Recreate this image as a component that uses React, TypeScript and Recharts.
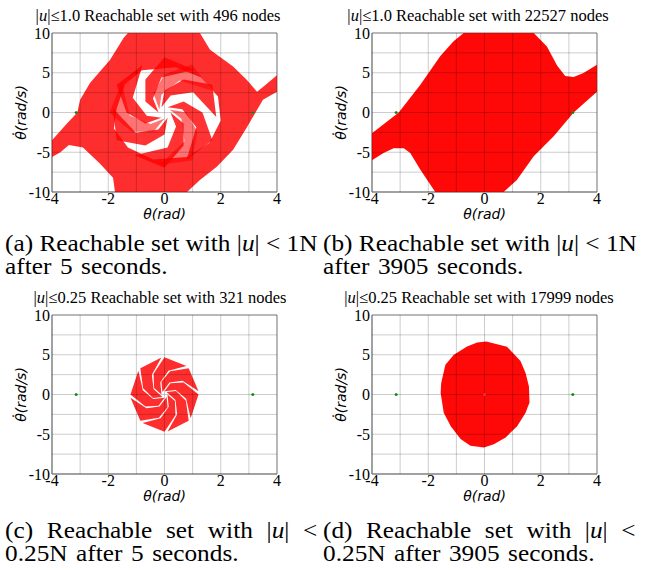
import React from 'react';
import { ScatterChart, Scatter, XAxis, YAxis, CartesianGrid, ReferenceArea, Label } from 'recharts';

type Pt = { x: number; y: number };
type Tup = [number, number];

// ---------- axes ----------
const xTicks = [-4, -3, -2, -1, 0, 1, 2, 3, 4];
const yTicks = [-10, -7.5, -5, -2.5, 0, 2.5, 5, 7.5, 10];
const xTickLabels = [-4, -2, 0, 2, 4];
const yTickLabels = [-10, -5, 0, 5, 10];

// ---------- equilibria (±π, 0) ----------
const equilibria: Tup[] = [[-3.14, 0], [3.14, 0]];
const originD: Tup[] = [[0, 0]];

// ---------- panel (a): |u|<=1.0, 496 nodes ----------
const ringOuterA: Tup[] = [
  [-1.3, 10], [1.26, 10], [1.62, 7.9], [2.44, 5.8], [2.93, 4.1], [3.29, 2.6], [3.5, 3.2], [4.0, 4.7],
  [4.0, 2.6], [3.5, 1.6], [3.22, -0.1], [2.93, -1.85], [2.44, -4.7], [1.87, -6.8], [1.26, -8.5], [0.8, -10],
  [-1.76, -10], [-1.83, -8.2], [-2.3, -6.4], [-2.9, -4.4], [-3.4, -4.1], [-3.7, -5.0], [-4.0, -5.6],
  [-4.0, -3.5], [-3.5, -1.5], [-3.1, 0.0], [-3.0, 1.6], [-2.65, 3.7], [-1.94, 6.6], [-1.45, 9.4],
];
const ringInnerA: Tup[] = [
  [-1.7, 0.5], [-1.4, 3.6], [-0.8, 5.3], [0.4, 5.7], [1.3, 4.4], [1.9, 2.0],
  [2.0, -1.0], [1.6, -3.8], [0.8, -5.6], [-0.4, -5.9], [-1.3, -4.4], [-1.8, -2.0],
];
const armA0: Tup[] = [[0.21, 0], [0.68, -1.39], [0.68, -4.16], [0, -6.96], [-1.06, -5.39], [0.11, -4.41], [0.41, -1.75]];
const armA1: Tup[] = [[0.11, 0.66], [0.68, 1.39], [1.35, 0], [1.7, -3.48], [0.78, -5.97], [1.13, -1.87], [0.63, 0.4]];
const armA2: Tup[] = [[-0.11, 0.66], [0, 2.78], [0.68, 4.16], [1.7, 3.48], [1.84, -0.57], [1.02, 2.54], [0.22, 2.14]];
const armA3: Tup[] = [[-0.21, 0], [-0.68, 1.39], [-0.68, 4.16], [0, 6.96], [1.06, 5.39], [-0.11, 4.41], [-0.41, 1.75]];
const armA4: Tup[] = [[-0.11, -0.66], [-0.68, -1.39], [-1.35, 0], [-1.7, 3.48], [-0.78, 5.97], [-1.13, 1.87], [-0.63, -0.4]];
const armA5: Tup[] = [[0.11, -0.66], [0, -2.78], [-0.68, -4.16], [-1.7, -3.48], [-1.84, 0.57], [-1.02, -2.54], [-0.22, -2.14]];
const shardA0: Tup[] = [[0.185, 0.38], [0.78, 0], [1.17, -2.41], [0.98, -6.03], [-0.16, -6.56], [0.71, -3.63], [0.6, -0.78]];
const shardA1: Tup[] = [[-0.185, 0.38], [-0.39, 2.41], [0, 4.81], [0.98, 6.03], [1.68, 2.78], [0.53, 4.02], [-0.11, 2.24]];
const shardA2: Tup[] = [[0, -0.76], [-0.39, -2.41], [-1.17, -2.41], [-1.96, 0], [-1.52, 3.77], [-1.24, -0.39], [-0.49, -1.46]];

// ---------- panel (b): |u|<=1.0, 22527 nodes ----------
const bandB: Tup[] = [
  [-4, -2.6], [-3.05, 0], [-2.28, 3.5], [-1.57, 7.1], [-1.1, 8.95], [-0.74, 10], [1.75, 10], [2.22, 8.3],
  [2.58, 5.9], [2.87, 4.6], [3.17, 4.45], [3.52, 4.96], [4, 6.0], [4, 2.6], [3.17, 0], [2.46, -3.0],
  [1.75, -5.5], [1.15, -8.5], [0.68, -10], [-1.75, -10], [-2.28, -7.2], [-2.64, -5.1], [-2.87, -4.5],
  [-3.23, -4.5], [-3.59, -5.1], [-4, -6.0],
];

// ---------- panel (c): |u|<=0.25, 321 nodes ----------
const armC0: Tup[] = [[0.107, 0], [0.37, -0.83], [0.39, -2.62], [0, -4.68], [-0.78, -3.59], [-0.14, -2.98], [0.15, -1.55]];
const armC1: Tup[] = [[0.075, 0.3], [0.41, 0.43], [0.76, -0.78], [0.86, -3.31], [0.11, -4.65], [0.45, -2.48], [0.39, -0.69]];
const armC2: Tup[] = [[0, 0.41], [0.21, 1.43], [0.68, 1.51], [1.21, 0], [0.93, -3.0], [0.77, -0.53], [0.4, 0.56]];
const armC3: Tup[] = [[-0.075, 0.3], [-0.11, 1.6], [0.2, 2.93], [0.86, 3.31], [1.21, 0.41], [0.64, 1.74], [0.18, 1.5]];
const armC4: Tup[] = [[-0.107, 0], [-0.37, 0.83], [-0.39, 2.62], [0, 4.68], [0.78, 3.59], [0.14, 2.98], [-0.15, 1.55]];
const armC5: Tup[] = [[-0.075, -0.3], [-0.41, -0.43], [-0.76, 0.78], [-0.86, 3.31], [-0.11, 4.65], [-0.45, 2.48], [-0.39, 0.69]];
const armC6: Tup[] = [[0, -0.41], [-0.21, -1.43], [-0.68, -1.51], [-1.21, 0], [-0.93, 3.0], [-0.77, 0.53], [-0.4, -0.56]];
const armC7: Tup[] = [[0.075, -0.3], [0.11, -1.6], [-0.2, -2.93], [-0.86, -3.31], [-1.21, -0.41], [-0.64, -1.74], [-0.18, -1.5]];

// ---------- panel (d): |u|<=0.25, 17999 nodes ----------
const blobD: Tup[] = [
  [0.06, 6.67], [0.8, 6.0], [1.28, 4.2], [1.46, 2.7], [1.58, 1.0], [1.6, -1.0], [1.46, -2.3], [1.16, -4.0],
  [0.75, -5.4], [0.33, -6.25], [-0.02, -6.67], [-0.5, -6.46], [-0.85, -5.6], [-1.2, -4.0], [-1.45, -2.3],
  [-1.56, 0.2], [-1.54, 1.46], [-1.39, 3.75], [-1.09, 5.0], [-0.62, 6.04], [-0.26, 6.54],
];

// ---------- text ----------
const uBounds = ['1.0', '1.0', '0.25', '0.25'];
const nodeCounts = ['496', '22527', '321', '17999'];
const captionLetters = ['a', 'b', 'c', 'd'];
const captionForces = ['1N', '1N', '0.25N', '0.25N'];
const captionTimes = ['5', '3905', '5', '3905'];

const pts = (a: Tup[]): Pt[] => a.map(([x, y]) => ({ x, y }));

const RED = '#ff0000';
const SERIF = 'Liberation Serif, Times New Roman, serif';
const SANS = 'DejaVu Sans, sans-serif';

const emptyShape = () => <g />;

const polygonLine = (fill: string, opacity: number, evenOdd = false) => (p: any) => {
  const list = (p.points || []).filter((q: any) => q && q.x != null && q.y != null);
  if (!list.length) return <g />;
  const d = list.map((q: any, i: number) => `${i ? 'L' : 'M'}${q.x},${q.y}`).join('') + 'Z';
  return <path d={d} fill={fill} fillOpacity={opacity} stroke="none" fillRule={evenOdd ? 'evenodd' : 'nonzero'} />;
};

const dotShape = (color: string, r: number) => (p: any) => <circle cx={p.cx} cy={p.cy} r={r} fill={color} />;

const XTitle = (props: any) => {
  const vb = props.viewBox || { x: 52, y: 192, width: 225, height: 38 };
  return (
    <text x={vb.x + vb.width / 2} y={vb.y + 27} textAnchor="middle" fontFamily={SANS} fontStyle="italic" fontSize={14} fill="#000">
      θ(rad)
    </text>
  );
};

const YTitle = (props: any) => {
  const vb = props.viewBox || { x: 0, y: 33, width: 52, height: 159 };
  const cx = vb.x + 21;
  const cy = vb.y + vb.height / 2;
  return (
    <text x={cx} y={cy} transform={`rotate(-90 ${cx} ${cy})`} textAnchor="middle" dominantBaseline="central" fontFamily={SANS} fontStyle="italic" fontSize={14} fill="#000">
      {'θ\u0307(rad/s)'}
    </text>
  );
};

const XTick = (p: any) => {
  const v = p.payload?.value;
  return (
    <text x={p.x} y={p.y} dy="0.71em" textAnchor="middle" fontFamily={SERIF} fontSize={16} fill="#000">
      {xTickLabels.includes(v) ? String(v) : ''}
    </text>
  );
};

const YTick = (p: any) => {
  const v = p.payload?.value;
  return (
    <text x={p.x} y={p.y} dy="0.355em" textAnchor="end" fontFamily={SERIF} fontSize={16} fill="#000">
      {yTickLabels.includes(v) ? String(v) : ''}
    </text>
  );
};

function Panel({ left, top, series }: { left: number; top: number; series: React.ReactNode[] }) {
  return (
    <div style={{ position: 'absolute', left, top }}>
      <ScatterChart width={330} height={230} margin={{ top: 33, right: 53, bottom: 0, left: 0 }}>
        <XAxis
          type="number"
          dataKey="x"
          domain={[-4, 4]}
          ticks={xTicks}
          interval={0}
          allowDataOverflow
          tickLine={false}
          tickSize={0}
          tickMargin={1}
          axisLine={{ stroke: '#999' }}
          tick={XTick}
          height={38}
        >
          <Label content={XTitle} />
        </XAxis>
        <YAxis
          type="number"
          dataKey="y"
          domain={[-10, 10]}
          ticks={yTicks}
          interval={0}
          allowDataOverflow
          tickLine={false}
          tickSize={0}
          tickMargin={2}
          axisLine={{ stroke: '#999' }}
          tick={YTick}
          width={52}
        >
          <Label content={YTitle} />
        </YAxis>
        {series}
        <CartesianGrid stroke="rgba(0,0,0,0.2)" {...({ zIndex: 650 } as any)} />
        <ReferenceArea x1={-4} x2={4} y1={-10} y2={10} fill="none" fillOpacity={0} stroke="#9a9a9a" strokeWidth={1} ifOverflow="visible" />
        <Scatter data={pts(equilibria)} shape={dotShape('#1f9a1f', 1.5)} isAnimationActive={false} />
      </ScatterChart>
    </div>
  );
}

const poly = (key: string, data: Pt[], opacity: number, evenOdd = false) => (
  <Scatter key={key} data={data} line={polygonLine(RED, opacity, evenOdd)} shape={emptyShape} isAnimationActive={false} />
);

const armsA = [armA0, armA1, armA2, armA3, armA4, armA5];
const shardsA = [shardA0, shardA1, shardA2];
const armsC = [armC0, armC1, armC2, armC3, armC4, armC5, armC6, armC7];

const seriesA = [
  poly('ring', [...pts(ringOuterA), pts(ringOuterA)[0], ...pts(ringInnerA), pts(ringInnerA)[0]], 0.82, true),
  ...shardsA.map((a, i) => poly('s' + i, pts(a), 0.55)),
  ...armsA.map((a, i) => poly('a' + i, pts(a), 0.8)),
];
const seriesB = [poly('band', pts(bandB), 0.97)];
const seriesC = armsC.map((a, i) => poly('c' + i, pts(a), 0.82));
const seriesD = [
  poly('blob', pts(blobD), 0.97),
  <Scatter key="o" data={pts(originD)} shape={dotShape('#ff9a9a', 1)} isAnimationActive={false} />,
];

function Title({ cx, top, i }: { cx: number; top: number; i: number }) {
  return (
    <div style={{ position: 'absolute', left: cx - 170, top, width: 340, textAlign: 'center', fontFamily: SERIF, fontSize: 16.5, lineHeight: '18px', whiteSpace: 'nowrap', color: '#000' }}>
      |<i>u</i>|≤{uBounds[i]} Reachable set with {nodeCounts[i]} nodes
    </div>
  );
}

function Caption({ left, top, i }: { left: number; top: number; i: number }) {
  const splitForce = i >= 2;
  return (
    <div
      style={{
        position: 'absolute', left, top, width: 284, fontFamily: SERIF, fontSize: 23, lineHeight: '23px', color: '#000',
        transform: 'scaleX(1.1)', transformOrigin: '0 0',
      }}
    >
      <div style={(splitForce ? { textAlignLast: 'justify', textAlign: 'justify', whiteSpace: 'nowrap' } : { whiteSpace: 'nowrap' }) as any}>
        ({captionLetters[i]}) Reachable set with |<i>u</i>| &lt;{splitForce ? '' : ' ' + captionForces[i]}
      </div>
      <div style={{ whiteSpace: 'nowrap', wordSpacing: 2 }}>
        {splitForce ? captionForces[i] + ' ' : ''}after {captionTimes[i]} seconds.
      </div>
    </div>
  );
}

export default function App() {
  return (
    <div style={{ position: 'absolute', left: 0, top: 0, width: 652, height: 570, background: '#fff', overflow: 'hidden' }}>
      <Panel left={0} top={0} series={seriesA} />
      <Panel left={320} top={0} series={seriesB} />
      <Panel left={0} top={282} series={seriesC} />
      <Panel left={320} top={282} series={seriesD} />
      <Title cx={158} top={7} i={0} />
      <Title cx={478} top={7} i={1} />
      <Title cx={160} top={289} i={2} />
      <Title cx={479} top={289} i={3} />
      <Caption left={5} top={232} i={0} />
      <Caption left={323} top={232} i={1} />
      <Caption left={5} top={519} i={2} />
      <Caption left={323} top={519} i={3} />
    </div>
  );
}
